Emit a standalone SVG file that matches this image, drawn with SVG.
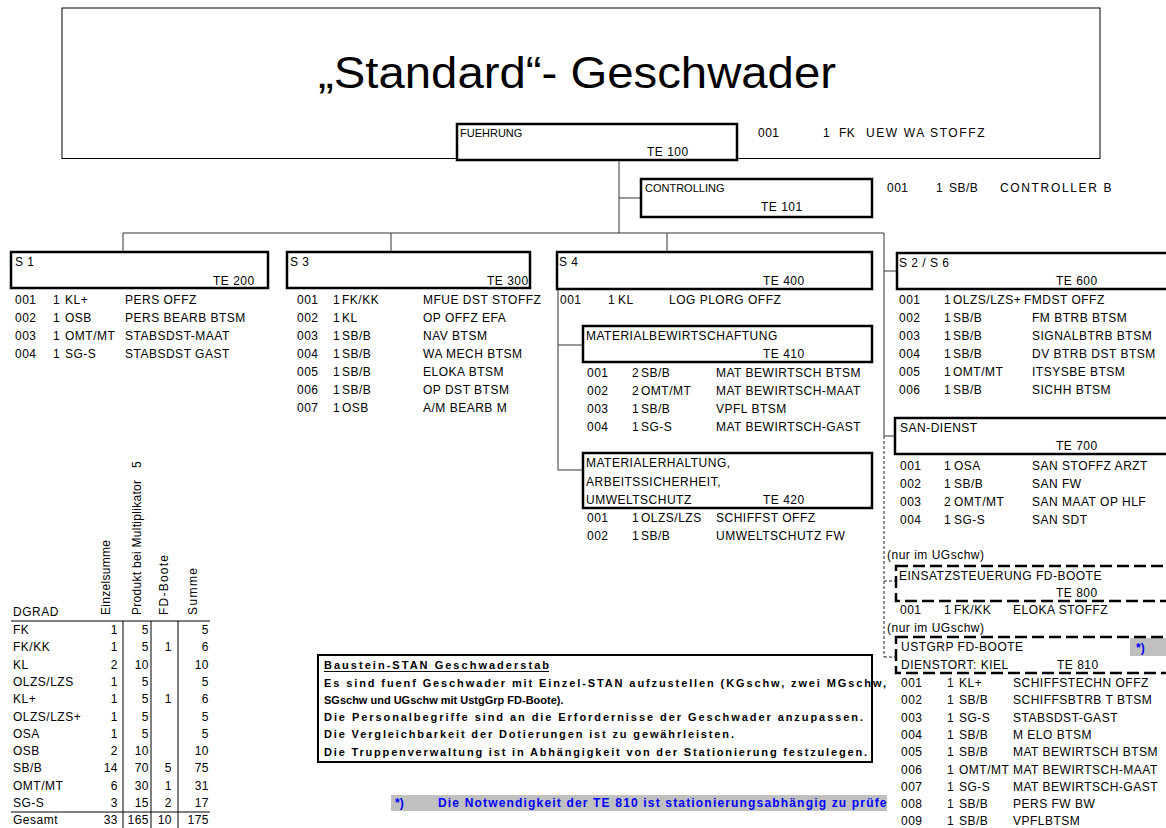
<svg xmlns="http://www.w3.org/2000/svg" width="1166" height="828" viewBox="0 0 1166 828">
<style>
text{font-family:"Liberation Sans",Arial,sans-serif;font-size:12px;letter-spacing:0.5px;fill:#000}
.s11{font-size:11px;letter-spacing:0}
.r{letter-spacing:0}
.b{font-weight:bold;font-size:11px;letter-spacing:0}
.fn{font-weight:bold;font-size:12px;letter-spacing:0;fill:#0000ff}
.box{fill:#fff;stroke:#000;stroke-width:2.5}
.dbox{fill:none;stroke:#000;stroke-width:2.5;stroke-dasharray:12 5}
.ln{stroke:#333;stroke-width:1;fill:none}
.dl{stroke:#222;stroke-width:1;fill:none;stroke-dasharray:3 2}
.tl{stroke:#000;stroke-width:1;fill:none}
.e{text-anchor:end}
</style>
<defs>
<clipPath id="fnclip"><rect x="380" y="780" width="508" height="40"/></clipPath>
</defs>
<rect width="1166" height="828" fill="#fff"/>

<g id="title-box">
<rect x="62" y="8" width="1038" height="150.5" fill="#fff" stroke="#000" stroke-width="1"/>
<text x="577" y="88" text-anchor="middle" style="font-size:44px;letter-spacing:0" textLength="518" lengthAdjust="spacingAndGlyphs">„Standard“- Geschwader</text>
</g>

<g id="connectors">
<path class="ln" d="M619 160V233M619 198H641M123 233H884M123 233V252M391 233V252M667 233V252M884 233V436M884 271H897M884 436H895"/>
<path class="ln" d="M558 289V470M558 345H583M558 470H583"/>
<path class="dl" d="M884 436V657M884 581H896M884 657H896"/>
</g>

<g id="te100">
<rect class="box" x="457" y="124" width="280" height="36"/>
<text class="s11" x="460" y="137">FUEHRUNG</text>
<text x="647" y="156">TE 100</text>
<text x="758" y="137">001</text><text x="823" y="137">1</text><text x="839" y="137">FK</text><text x="866" y="137" textLength="119">UEW WA STOFFZ</text>
</g>

<g id="te101">
<rect class="box" x="641" y="179" width="231" height="38"/>
<text class="s11" x="645" y="192">CONTROLLING</text>
<text x="761" y="211">TE 101</text>
<text x="887" y="192">001</text><text x="936" y="192">1</text><text x="949" y="192">SB/B</text><text x="1000" y="192" textLength="112">CONTROLLER B</text>
</g>

<g id="te200">
<rect class="box" x="11" y="252" width="257" height="36"/>
<text x="15" y="266">S 1</text>
<text x="213" y="285">TE 200</text>
<text x="15" y="304">001</text><text x="53" y="304">1</text><text x="65" y="304">KL+</text><text x="125" y="304">PERS OFFZ</text>
<text x="15" y="322">002</text><text x="53" y="322">1</text><text x="65" y="322">OSB</text><text x="125" y="322">PERS BEARB BTSM</text>
<text x="15" y="340">003</text><text x="53" y="340">1</text><text x="65" y="340">OMT/MT</text><text x="125" y="340">STABSDST-MAAT</text>
<text x="15" y="358">004</text><text x="53" y="358">1</text><text x="65" y="358">SG-S</text><text x="125" y="358">STABSDST GAST</text>
</g>

<g id="te300">
<rect class="box" x="287" y="252" width="243" height="36"/>
<text x="290" y="266">S 3</text>
<text x="487" y="285">TE 300</text>
<text x="297" y="304">001</text><text x="333" y="304">1</text><text x="342" y="304">FK/KK</text><text x="423" y="304">MFUE DST STOFFZ</text>
<text x="297" y="322">002</text><text x="333" y="322">1</text><text x="342" y="322">KL</text><text x="423" y="322">OP OFFZ EFA</text>
<text x="297" y="340">003</text><text x="333" y="340">1</text><text x="342" y="340">SB/B</text><text x="423" y="340">NAV BTSM</text>
<text x="297" y="358">004</text><text x="333" y="358">1</text><text x="342" y="358">SB/B</text><text x="423" y="358">WA MECH BTSM</text>
<text x="297" y="376">005</text><text x="333" y="376">1</text><text x="342" y="376">SB/B</text><text x="423" y="376">ELOKA BTSM</text>
<text x="297" y="394">006</text><text x="333" y="394">1</text><text x="342" y="394">SB/B</text><text x="423" y="394">OP DST BTSM</text>
<text x="297" y="412">007</text><text x="333" y="412">1</text><text x="342" y="412">OSB</text><text x="423" y="412">A/M BEARB M</text>
</g>

<g id="te400">
<rect class="box" x="557" y="252" width="315" height="37"/>
<text x="559" y="266">S 4</text>
<text x="763" y="285">TE 400</text>
<text x="560" y="304">001</text><text x="608" y="304">1</text><text x="618" y="304">KL</text><text x="669" y="304">LOG PLORG OFFZ</text>
</g>

<g id="te410">
<rect class="box" x="583" y="326" width="289" height="36"/>
<text x="586" y="340">MATERIALBEWIRTSCHAFTUNG</text>
<text x="763" y="358">TE 410</text>
<text x="587" y="377">001</text><text x="632" y="377">2</text><text x="641" y="377">SB/B</text><text x="716" y="377">MAT BEWIRTSCH BTSM</text>
<text x="587" y="395">002</text><text x="632" y="395">2</text><text x="641" y="395">OMT/MT</text><text x="716" y="395">MAT BEWIRTSCH-MAAT</text>
<text x="587" y="413">003</text><text x="632" y="413">1</text><text x="641" y="413">SB/B</text><text x="716" y="413">VPFL BTSM</text>
<text x="587" y="431">004</text><text x="632" y="431">1</text><text x="641" y="431">SG-S</text><text x="716" y="431">MAT BEWIRTSCH-GAST</text>
</g>

<g id="te420">
<rect class="box" x="583" y="453" width="289" height="55"/>
<text x="586" y="467">MATERIALERHALTUNG,</text>
<text x="586" y="486">ARBEITSSICHERHEIT,</text>
<text x="586" y="504">UMWELTSCHUTZ</text>
<text x="763" y="504">TE 420</text>
<text x="587" y="522">001</text><text x="632" y="522">1</text><text x="641" y="522">OLZS/LZS</text><text x="716" y="522">SCHIFFST OFFZ</text>
<text x="587" y="540">002</text><text x="632" y="540">1</text><text x="641" y="540">SB/B</text><text x="716" y="540">UMWELTSCHUTZ FW</text>
</g>

<g id="te600">
<rect class="box" x="897" y="253" width="280" height="36"/>
<text x="899" y="267">S 2 / S 6</text>
<text x="1056" y="285">TE 600</text>
<text x="899" y="304">001</text><text x="944" y="304">1</text><text x="953" y="304">OLZS/LZS+</text><text x="1024" y="304">FMDST OFFZ</text>
<text x="899" y="322">002</text><text x="944" y="322">1</text><text x="953" y="322">SB/B</text><text x="1032" y="322">FM BTRB BTSM</text>
<text x="899" y="340">003</text><text x="944" y="340">1</text><text x="953" y="340">SB/B</text><text x="1032" y="340">SIGNALBTRB BTSM</text>
<text x="899" y="358">004</text><text x="944" y="358">1</text><text x="953" y="358">SB/B</text><text x="1032" y="358">DV BTRB DST BTSM</text>
<text x="899" y="376">005</text><text x="944" y="376">1</text><text x="953" y="376">OMT/MT</text><text x="1032" y="376">ITSYSBE BTSM</text>
<text x="899" y="394">006</text><text x="944" y="394">1</text><text x="953" y="394">SB/B</text><text x="1032" y="394">SICHH BTSM</text>
</g>

<g id="te700">
<rect class="box" x="895" y="418" width="282" height="36"/>
<text x="900" y="432">SAN-DIENST</text>
<text x="1056" y="450">TE 700</text>
<text x="900" y="470">001</text><text x="944" y="470">1</text><text x="954" y="470">OSA</text><text x="1032" y="470">SAN STOFFZ ARZT</text>
<text x="900" y="488">002</text><text x="944" y="488">1</text><text x="954" y="488">SB/B</text><text x="1032" y="488">SAN FW</text>
<text x="900" y="506">003</text><text x="944" y="506">2</text><text x="954" y="506">OMT/MT</text><text x="1032" y="506">SAN MAAT OP HLF</text>
<text x="900" y="524">004</text><text x="944" y="524">1</text><text x="954" y="524">SG-S</text><text x="1032" y="524">SAN SDT</text>
</g>

<g id="te800">
<text x="887" y="559">(nur im UGschw)</text>
<rect class="dbox" x="896" y="566" width="282" height="35"/>
<text x="899" y="580">EINSATZSTEUERUNG FD-BOOTE</text>
<text x="1056" y="597">TE 800</text>
<text x="900" y="614">001</text><text x="944" y="614">1</text><text x="954" y="614">FK/KK</text><text x="1013" y="614">ELOKA STOFFZ</text>
</g>

<g id="te810">
<text x="887" y="632">(nur im UGschw)</text>
<rect x="1130" y="638" width="40" height="18" fill="#c0c0c0"/>
<text class="fn" x="1136" y="652">*)</text>
<rect class="dbox" x="896" y="637" width="282" height="36"/>
<text x="901" y="651">USTGRP FD-BOOTE</text>
<text x="901" y="669">DIENSTORT: KIEL</text>
<text x="1057" y="669">TE 810</text>
<text x="901" y="687">001</text><text x="947" y="687">1</text><text x="959" y="687">KL+</text><text x="1013" y="687">SCHIFFSTECHN OFFZ</text>
<text x="901" y="704">002</text><text x="947" y="704">1</text><text x="959" y="704">SB/B</text><text x="1013" y="704">SCHIFFSBTRB T BTSM</text>
<text x="901" y="722">003</text><text x="947" y="722">1</text><text x="959" y="722">SG-S</text><text x="1013" y="722">STABSDST-GAST</text>
<text x="901" y="739">004</text><text x="947" y="739">1</text><text x="959" y="739">SB/B</text><text x="1013" y="739">M ELO BTSM</text>
<text x="901" y="756">005</text><text x="947" y="756">1</text><text x="959" y="756">SB/B</text><text x="1013" y="756">MAT BEWIRTSCH BTSM</text>
<text x="901" y="774">006</text><text x="947" y="774">1</text><text x="959" y="774">OMT/MT</text><text x="1013" y="774">MAT BEWIRTSCH-MAAT</text>
<text x="901" y="791">007</text><text x="947" y="791">1</text><text x="959" y="791">SG-S</text><text x="1013" y="791">MAT BEWIRTSCH-GAST</text>
<text x="901" y="808">008</text><text x="947" y="808">1</text><text x="959" y="808">SB/B</text><text x="1013" y="808">PERS FW BW</text>
<text x="901" y="825">009</text><text x="947" y="825">1</text><text x="959" y="825">SB/B</text><text x="1013" y="825">VPFLBTSM</text>
</g>

<g id="stats-table">
<text class="r" transform="translate(110,615) rotate(-90)" textLength="75">Einzelsumme</text>
<text class="r" transform="translate(141,615) rotate(-90)" textLength="135">Produkt bei Multiplikator</text>
<text class="r" transform="translate(141,468) rotate(-90)">5</text>
<text class="r" transform="translate(168,615) rotate(-90)" textLength="60">FD-Boote</text>
<text class="r" transform="translate(197,615) rotate(-90)" textLength="47">Summe</text>
<text x="13" y="616">DGRAD</text>
<path class="tl" d="M11 621H210M11 812H210M123 621V828M151 621V828M178 621V828"/>
<g>
<text x="13" y="634">FK</text><text class="e" x="118" y="634">1</text><text class="e" x="149" y="634">5</text><text class="e" x="209" y="634">5</text>
<text x="13" y="651">FK/KK</text><text class="e" x="118" y="651">1</text><text class="e" x="149" y="651">5</text><text class="e" x="172" y="651">1</text><text class="e" x="209" y="651">6</text>
<text x="13" y="669">KL</text><text class="e" x="118" y="669">2</text><text class="e" x="149" y="669">10</text><text class="e" x="209" y="669">10</text>
<text x="13" y="686">OLZS/LZS</text><text class="e" x="118" y="686">1</text><text class="e" x="149" y="686">5</text><text class="e" x="209" y="686">5</text>
<text x="13" y="703">KL+</text><text class="e" x="118" y="703">1</text><text class="e" x="149" y="703">5</text><text class="e" x="172" y="703">1</text><text class="e" x="209" y="703">6</text>
<text x="13" y="721">OLZS/LZS+</text><text class="e" x="118" y="721">1</text><text class="e" x="149" y="721">5</text><text class="e" x="209" y="721">5</text>
<text x="13" y="738">OSA</text><text class="e" x="118" y="738">1</text><text class="e" x="149" y="738">5</text><text class="e" x="209" y="738">5</text>
<text x="13" y="755">OSB</text><text class="e" x="118" y="755">2</text><text class="e" x="149" y="755">10</text><text class="e" x="209" y="755">10</text>
<text x="13" y="772">SB/B</text><text class="e" x="118" y="772">14</text><text class="e" x="149" y="772">70</text><text class="e" x="172" y="772">5</text><text class="e" x="209" y="772">75</text>
<text x="13" y="790">OMT/MT</text><text class="e" x="118" y="790">6</text><text class="e" x="149" y="790">30</text><text class="e" x="172" y="790">1</text><text class="e" x="209" y="790">31</text>
<text x="13" y="807">SG-S</text><text class="e" x="118" y="807">3</text><text class="e" x="149" y="807">15</text><text class="e" x="172" y="807">2</text><text class="e" x="209" y="807">17</text>
<text x="13" y="824">Gesamt</text><text class="e" x="118" y="824">33</text><text class="e" x="149" y="824">165</text><text class="e" x="172" y="824">10</text><text class="e" x="209" y="824">175</text>
</g>
</g>

<g id="note-box">
<rect x="318" y="655" width="554" height="107" fill="#fff" stroke="#000" stroke-width="2"/>
<text class="b" x="324" y="669" textLength="225">Baustein-STAN Geschwaderstab</text>
<path class="tl" d="M324 671.5H549"/>
<text class="b" x="324" y="687" textLength="562">Es sind fuenf Geschwader mit Einzel-STAN aufzustellen (KGschw, zwei MGschw,</text>
<text class="b" x="324" y="704">SGschw und UGschw mit UstgGrp FD-Boote).</text>
<text class="b" x="324" y="721" textLength="539">Die Personalbegriffe sind an die Erfordernisse der Geschwader anzupassen.</text>
<text class="b" x="324" y="738" textLength="410">Die Vergleichbarkeit der Dotierungen ist zu gewährleisten.</text>
<text class="b" x="324" y="756" textLength="543">Die Truppenverwaltung ist in Abhängigkeit von der Stationierung festzulegen.</text>
</g>

<g id="footnote">
<rect x="391" y="795" width="496" height="16" fill="#c0c0c0"/>
<g clip-path="url(#fnclip)">
<text class="fn" x="395" y="807">*)</text>
<text class="fn" x="438" y="807" textLength="457">Die Notwendigkeit der TE 810 ist stationierungsabhängig zu prüfen</text>
</g>
</g>
</svg>
